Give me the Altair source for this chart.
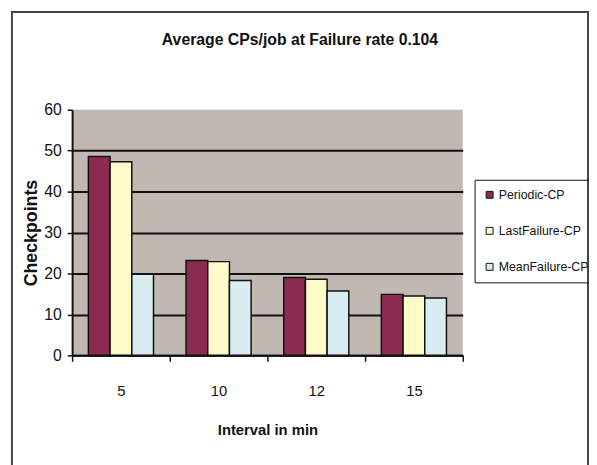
import altair as alt
import pandas as pd

intervals = ["5", "10", "12", "15"]
series = ["Periodic-CP", "LastFailure-CP", "MeanFailure-CP"]
periodic = [48.6, 23.2, 19.0, 14.9]
last_failure = [47.3, 22.9, 18.6, 14.5]
mean_failure = [19.8, 18.3, 15.7, 14.0]
colors = ["#8C2B52", "#FFFBC9", "#D8ECF1"]
y_ticks = [0, 10, 20, 30, 40, 50, 60]

rows = []
for name, vals in zip(series, [periodic, last_failure, mean_failure]):
    for iv, v in zip(intervals, vals):
        rows.append({"interval": iv, "series": name, "value": v})
df = pd.DataFrame(rows)

FONT = "Liberation Sans, Arial, sans-serif"
W, H = 396, 249

bars = alt.Chart(df).mark_bar(stroke="#111111", strokeWidth=1.5).encode(
    x=alt.X("interval:N", sort=intervals,
            scale=alt.Scale(paddingInner=0, paddingOuter=0),
            axis=alt.Axis(title="Interval in min", labelAngle=0, tickBand="extent",
                          tickSize=6, tickColor="#111111", tickWidth=1.5,
                          domainColor="#111111", domainWidth=2,
                          labelFont=FONT, labelFontSize=15, labelColor="#111111",
                          labelPadding=23, titleFont=FONT, titleFontSize=15,
                          titleFontWeight="bold", titleColor="#111111", titlePadding=24)),
    xOffset=alt.XOffset("series:N", sort=series,
                        scale=alt.Scale(paddingInner=0, paddingOuter=0.75)),
    y=alt.Y("value:Q", scale=alt.Scale(domain=[0, 60], nice=False),
            axis=alt.Axis(title="Checkpoints", values=y_ticks, grid=True,
                          gridColor="#111111", gridWidth=2,
                          gridOpacity=alt.condition("datum.value >= 60", alt.value(0), alt.value(1)),
                          tickSize=5, tickColor="#111111", tickWidth=1.5,
                          domainColor="#111111", domainWidth=2,
                          labelFont=FONT, labelFontSize=16, labelColor="#111111",
                          labelPadding=6, titleFont=FONT, titleFontSize=18,
                          titleFontWeight="bold", titleColor="#111111", titlePadding=3)),
    color=alt.Color("series:N", sort=series,
                    scale=alt.Scale(domain=series, range=colors),
                    legend=alt.Legend(title=None, orient="none", legendX=408, legendY=71,
                                      symbolType="square", symbolSize=49,
                                      symbolStrokeColor="#111111", symbolStrokeWidth=1,
                                      labelFont=FONT, labelFontSize=12.5,
                                      labelColor="#111111", rowPadding=23.5,
                                      padding=9, strokeColor="#111111",
                                      labelOffset=3)),
)

frame = alt.Chart(pd.DataFrame({"a": [0]})).mark_rect(
    fill="transparent", stroke="#444444", strokeWidth=2
).encode(
    x=alt.value(-61), x2=alt.value(523), y=alt.value(-99), y2=alt.value(370)
)

chart = alt.layer(frame, bars).properties(
    width=W, height=H,
    title=alt.TitleParams("Average CPs/job at Failure rate 0.104", font=FONT,
                          fontSize=16, fontWeight="bold", color="#111111",
                          anchor="middle", frame="group", dx=33, offset=-37),
    autosize=alt.AutoSizeParams(type="none"),
    padding={"left": 65, "top": 100, "right": 128, "bottom": 108},
    background="white",
).configure_view(fill="#C1B8B2", strokeWidth=0)

chart.save("out.html", embed_options={"renderer": "svg", "actions": False})
